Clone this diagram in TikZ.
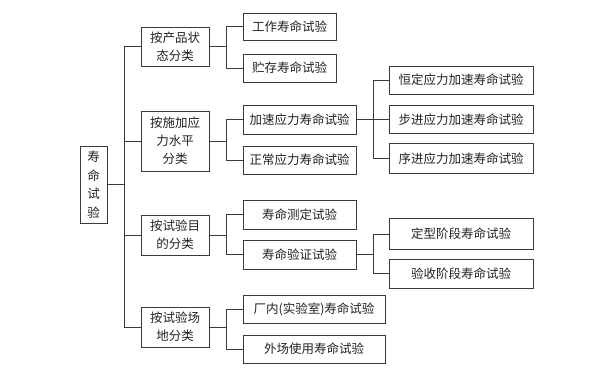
\documentclass[tikz,border=0pt]{standalone}
\usepackage{fontspec}
\setmainfont{Noto Sans CJK SC}
\definecolor{ln}{HTML}{3A3A3A}
\definecolor{tx}{HTML}{222222}
\begin{document}
\begin{tikzpicture}[x=1pt,y=1pt,
  box/.style={draw=ln,line width=0.8pt,inner sep=0pt,align=center,text=tx,
    font=\fontsize{12.5}{18}\selectfont},
  conn/.style={draw=ln,line width=0.8pt}]
\useasboundingbox (0,0) rectangle (605,375);
% root
\node[box,minimum width=27,minimum height=77,font=\fontsize{12.5}{18.5}\selectfont] (root) at (93.5,375-184.5) {寿\\命\\试\\验};
% level 1
\node[box,minimum width=68,minimum height=39] (a) at (175,375-46.5) {按产品状\\态分类};
\node[box,minimum width=68,minimum height=60] (b) at (175,375-141) {按施加应\\力水平\\分类};
\node[box,minimum width=68,minimum height=40] (c) at (175,375-235) {按试验目\\的分类};
\node[box,minimum width=68,minimum height=40] (d) at (175,375-327) {按试验场\\地分类};
% level 2
\node[box,minimum width=93,minimum height=27] (a1) at (289.5,375-26.5) {工作寿命试验};
\node[box,minimum width=93,minimum height=28] (a2) at (289.5,375-68) {贮存寿命试验};
\node[box,minimum width=113,minimum height=29] (b1) at (299.5,375-119.5) {加速应力寿命试验};
\node[box,minimum width=113,minimum height=28] (b2) at (299.5,375-160) {正常应力寿命试验};
\node[box,minimum width=113,minimum height=29] (c1) at (299.5,375-214.5) {寿命测定试验};
\node[box,minimum width=113,minimum height=29] (c2) at (299.5,375-254.5) {寿命验证试验};
\node[box,minimum width=142,minimum height=28] (d1) at (314,375-309) {厂内(实验室)寿命试验};
\node[box,minimum width=142,minimum height=28] (d2) at (314,375-349) {外场使用寿命试验};
% level 3
\node[box,minimum width=144,minimum height=28] (e1) at (461,375-80) {恒定应力加速寿命试验};
\node[box,minimum width=144,minimum height=28] (e2) at (461,375-119.5) {步进应力加速寿命试验};
\node[box,minimum width=144,minimum height=30] (e3) at (461,375-158.5) {序进应力加速寿命试验};
\node[box,minimum width=144,minimum height=31] (f1) at (461,375-234) {定型阶段寿命试验};
\node[box,minimum width=144,minimum height=29] (f2) at (461,375-273.5) {验收阶段寿命试验};
% bracket x positions
\coordinate (tx) at (124,0);
\coordinate (bx) at (226,0);
\coordinate (cx) at (373,0);
% trunk
\draw[conn] (root.east) -- (root.east -| tx);
\draw[conn] (a.west) -- (a.west -| tx) -- (d.west -| tx) -- (d.west);
\draw[conn] (b.west) -- (b.west -| tx);
\draw[conn] (c.west) -- (c.west -| tx);
% level-2 brackets
\draw[conn] (a.east) -- (a.east -| bx);
\draw[conn] (a1.west) -- (a1.west -| bx) -- (a2.west -| bx) -- (a2.west);
\draw[conn] (b.east) -- (b.east -| bx);
\draw[conn] (b1.west) -- (b1.west -| bx) -- (b2.west -| bx) -- (b2.west);
\draw[conn] (c.east) -- (c.east -| bx);
\draw[conn] (c1.west) -- (c1.west -| bx) -- (c2.west -| bx) -- (c2.west);
\draw[conn] (d.east) -- (d.east -| bx);
\draw[conn] (d1.west) -- (d1.west -| bx) -- (d2.west -| bx) -- (d2.west);
% level-3 brackets
\draw[conn] (b1.east) -- (e2.west);
\draw[conn] (e1.west) -- (e1.west -| cx) -- (e3.west -| cx) -- (e3.west);
\draw[conn] (c2.east) -- (c2.east -| cx);
\draw[conn] (f1.west) -- (f1.west -| cx) -- (f2.west -| cx) -- (f2.west);
\end{tikzpicture}
\end{document}
